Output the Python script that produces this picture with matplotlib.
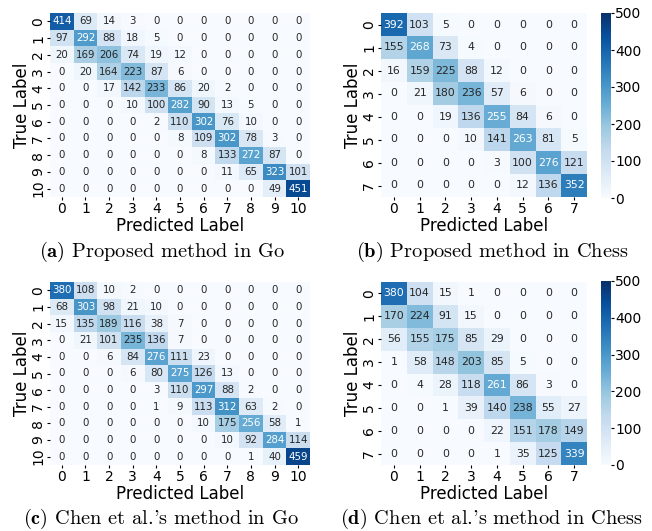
import matplotlib
matplotlib.use("Agg")
import matplotlib.pyplot as plt
import numpy as np
import seaborn as sns

# confusion matrices (rows = true label, cols = predicted label)
go_ours = [
    [414, 69, 14, 3, 0, 0, 0, 0, 0, 0, 0],
    [97, 292, 88, 18, 5, 0, 0, 0, 0, 0, 0],
    [20, 169, 206, 74, 19, 12, 0, 0, 0, 0, 0],
    [0, 20, 164, 223, 87, 6, 0, 0, 0, 0, 0],
    [0, 0, 17, 142, 233, 86, 20, 2, 0, 0, 0],
    [0, 0, 0, 10, 100, 282, 90, 13, 5, 0, 0],
    [0, 0, 0, 0, 2, 110, 302, 76, 10, 0, 0],
    [0, 0, 0, 0, 0, 8, 109, 302, 78, 3, 0],
    [0, 0, 0, 0, 0, 0, 8, 133, 272, 87, 0],
    [0, 0, 0, 0, 0, 0, 0, 11, 65, 323, 101],
    [0, 0, 0, 0, 0, 0, 0, 0, 0, 49, 451],
]
chess_ours = [
    [392, 103, 5, 0, 0, 0, 0, 0],
    [155, 268, 73, 4, 0, 0, 0, 0],
    [16, 159, 225, 88, 12, 0, 0, 0],
    [0, 21, 180, 236, 57, 6, 0, 0],
    [0, 0, 19, 136, 255, 84, 6, 0],
    [0, 0, 0, 10, 141, 263, 81, 5],
    [0, 0, 0, 0, 3, 100, 276, 121],
    [0, 0, 0, 0, 0, 12, 136, 352],
]
go_chen = [
    [380, 108, 10, 2, 0, 0, 0, 0, 0, 0, 0],
    [68, 303, 98, 21, 10, 0, 0, 0, 0, 0, 0],
    [15, 135, 189, 116, 38, 7, 0, 0, 0, 0, 0],
    [0, 21, 101, 235, 136, 7, 0, 0, 0, 0, 0],
    [0, 0, 6, 84, 276, 111, 23, 0, 0, 0, 0],
    [0, 0, 0, 6, 80, 275, 126, 13, 0, 0, 0],
    [0, 0, 0, 0, 3, 110, 297, 88, 2, 0, 0],
    [0, 0, 0, 0, 1, 9, 113, 312, 63, 2, 0],
    [0, 0, 0, 0, 0, 0, 10, 175, 256, 58, 1],
    [0, 0, 0, 0, 0, 0, 0, 10, 92, 284, 114],
    [0, 0, 0, 0, 0, 0, 0, 0, 1, 40, 459],
]
chess_chen = [
    [380, 104, 15, 1, 0, 0, 0, 0],
    [170, 224, 91, 15, 0, 0, 0, 0],
    [56, 155, 175, 85, 29, 0, 0, 0],
    [1, 58, 148, 203, 85, 5, 0, 0],
    [0, 4, 28, 118, 261, 86, 3, 0],
    [0, 0, 1, 39, 140, 238, 55, 27],
    [0, 0, 0, 0, 22, 151, 178, 149],
    [0, 0, 0, 0, 1, 35, 125, 339],
]

captions = [
    r"$\mathbf{(a)}$ Proposed method in Go",
    r"$\mathbf{(b)}$ Proposed method in Chess",
    r"$\mathbf{(c)}$ Chen et al.'s method in Go",
    r"$\mathbf{(d)}$ Chen et al.'s method in Chess",
]

plt.rcParams["mathtext.fontset"] = "cm"

W, H = 652, 531
fig = plt.figure(figsize=(W / 100, H / 100), dpi=100)


def box(x0, y0, x1, y1):
    # pixel box (top-left origin) -> figure fraction
    return [x0 / W, 1 - y1 / H, (x1 - x0) / W, (y1 - y0) / H]


def draw(mat, rect, cbar_rect, annot_size):
    ax = fig.add_axes(box(*rect))
    data = np.array(mat)
    n = data.shape[0]
    kw = dict(annot=True, fmt="d", cmap="Blues", vmin=0, vmax=500,
              annot_kws={"size": annot_size}, ax=ax,
              xticklabels=range(n), yticklabels=range(n))
    if cbar_rect is not None:
        cax = fig.add_axes(box(*cbar_rect))
        sns.heatmap(data, cbar=True, cbar_ax=cax, **kw)
        cax.tick_params(labelsize=10, length=2, pad=1)
        cax.set_yticks([0, 100, 200, 300, 400, 500])
    else:
        sns.heatmap(data, cbar=False, **kw)
    ax.tick_params(axis="both", labelsize=10, length=2.5, pad=1)
    plt.setp(ax.get_yticklabels(), rotation=90, va="center")
    plt.setp(ax.get_xticklabels(), rotation=0)
    ax.set_xlabel("Predicted Label", fontsize=12, labelpad=1)
    ax.set_ylabel("True Label", fontsize=12, labelpad=0)
    return ax


draw(go_ours, (50, 13, 310, 197), None, 7.4)
draw(chess_ours, (381, 13, 587, 197), (601, 13, 611, 198), 7.8)
draw(go_chen, (50, 282, 310, 465), None, 7.4)
draw(chess_chen, (381, 282, 587, 465), (601, 281, 611, 465), 7.8)

cap_pos = [(162, 252), (492, 252), (161, 519), (491, 519)]
for txt, (cx, cy) in zip(captions, cap_pos):
    fig.text(cx / W, 1 - cy / H, txt, family="cmr10", fontsize=14.7,
             ha="center", va="center")

fig.savefig("out.png", dpi=100)
